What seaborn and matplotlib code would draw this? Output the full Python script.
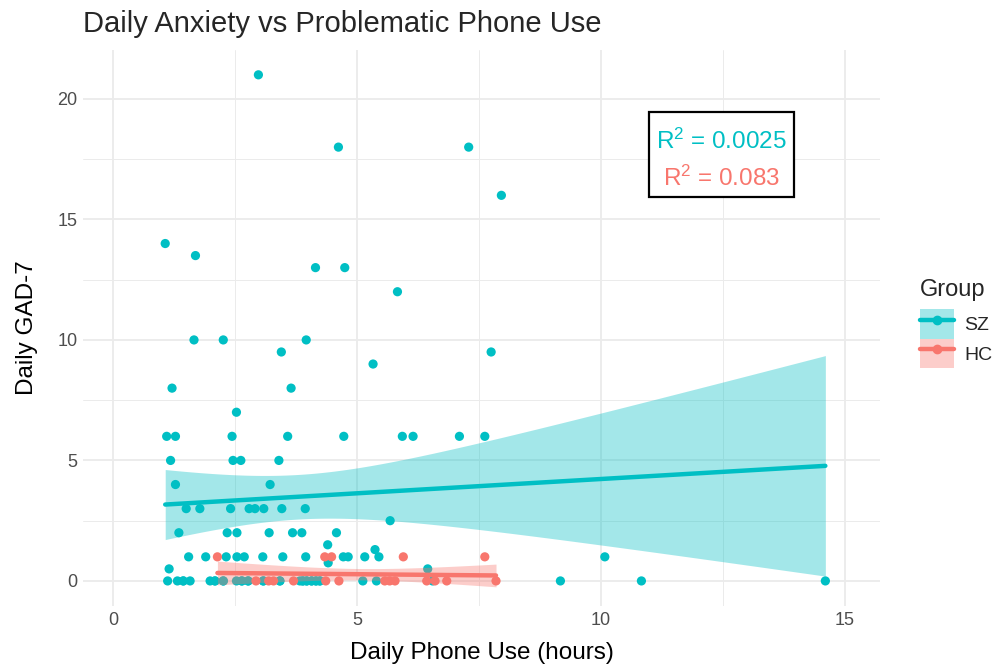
import numpy as np
import pandas as pd
import matplotlib
matplotlib.use("Agg")
import matplotlib.pyplot as plt
import seaborn as sns
from matplotlib.patches import Patch
from matplotlib.lines import Line2D
from matplotlib.legend_handler import HandlerTuple
from matplotlib.offsetbox import TextArea, VPacker, AnnotationBbox, DrawingArea
from matplotlib.ticker import MultipleLocator

# Daily phone use (hours) and daily GAD-7 score, schizophrenia group
# (the zero row is dense; several zero-score days sit on top of each other)
sz_phone = [
    2.98, 4.62, 7.29, 7.96, 1.07, 1.69, 4.15, 4.75, 5.83,
    1.66, 2.26, 3.96, 3.45, 7.75, 5.33, 1.21, 3.65, 2.53,
    1.10, 1.28, 2.44, 3.58, 4.73, 5.93, 6.15, 7.10, 7.62,
    1.18, 2.46, 2.62, 3.40, 1.28, 3.22,
    1.50, 1.78, 2.41, 2.79, 2.91, 3.09, 3.46, 3.94,
    5.68, 1.35, 2.34, 2.54, 3.20, 3.68, 3.87, 4.58, 4.40, 5.37,
    1.55, 1.90, 2.32, 2.54, 2.69, 3.07, 3.48, 3.95, 4.72, 4.82, 5.16, 5.45, 10.08,
    4.41, 1.15, 6.45,
    1.12, 1.32, 1.44, 1.58, 1.99, 2.09, 2.26, 2.53, 2.64, 2.77, 3.08, 3.42,
    3.83, 3.89, 3.97, 4.07, 4.16, 4.24, 5.12, 5.40, 6.55, 9.17, 10.83, 14.60,
    1.44, 2.09, 2.26, 2.64, 2.77, 3.08, 3.42, 3.89, 3.97, 4.07, 4.16, 4.24,
]
sz_gad = [
    21, 18, 18, 16, 14, 13.5, 13, 13, 12,
    10, 10, 10, 9.5, 9.5, 9, 8, 8, 7,
    6, 6, 6, 6, 6, 6, 6, 6, 6,
    5, 5, 5, 5, 4, 4,
    3, 3, 3, 3, 3, 3, 3, 3,
    2.5, 2, 2, 2, 2, 2, 2, 2, 1.5, 1.3,
    1, 1, 1, 1, 1, 1, 1, 1, 1, 1, 1, 1, 1,
    0.75, 0.5, 0.5,
    0, 0, 0, 0, 0, 0, 0, 0, 0, 0, 0, 0,
    0, 0, 0, 0, 0, 0, 0, 0, 0, 0, 0, 0,
    0, 0, 0, 0, 0, 0, 0, 0, 0, 0, 0, 0,
]

# Same measures, healthy control group
hc_phone = [2.14, 4.34, 4.48, 5.95, 7.62,
            2.93, 3.19, 3.29, 3.70, 4.36, 4.63, 5.57, 5.67, 5.78,
            6.43, 6.60, 6.84, 7.85]
hc_gad = [1, 1, 1, 1, 1,
          0, 0, 0, 0, 0, 0, 0, 0, 0,
          0, 0, 0, 0]

groups = ["SZ", "HC"]
palette = {"SZ": "#00BFC4", "HC": "#F8766D"}
r2_text = {"SZ": "0.0025", "HC": "0.083"}

df = pd.concat([
    pd.DataFrame({"phone": sz_phone, "gad": sz_gad, "Group": "SZ"}),
    pd.DataFrame({"phone": hc_phone, "gad": hc_gad, "Group": "HC"}),
], ignore_index=True)


def t975(dof):
    """Two-sided 95% Student-t quantile (Cornish-Fisher expansion)."""
    z = 1.959963985
    return (z + (z**3 + z) / (4 * dof)
            + (5 * z**5 + 16 * z**3 + 3 * z) / (96 * dof**2)
            + (3 * z**7 + 19 * z**5 + 17 * z**3 - 15 * z) / (384 * dof**3))


def lm_band(x, y, grid):
    """OLS fit with 95% confidence band of the mean on a grid."""
    x = np.asarray(x, float)
    y = np.asarray(y, float)
    n = len(x)
    slope, intercept = np.polyfit(x, y, 1)
    resid = y - (intercept + slope * x)
    s = np.sqrt(np.sum(resid**2) / (n - 2))
    sxx = np.sum((x - x.mean())**2)
    se = s * np.sqrt(1 / n + (grid - x.mean())**2 / sxx)
    fit = intercept + slope * grid
    half = t975(n - 2) * se
    return fit - half, fit + half


sns.set_theme(style="white")
plt.rcParams["font.family"] = ["Liberation Sans", "DejaVu Sans"]
plt.rcParams["mathtext.default"] = "regular"

fig = plt.figure(figsize=(9.99, 6.71), dpi=100)
ax = fig.add_axes([83 / 999, 65 / 671, 797 / 999, 556 / 671])

sns.scatterplot(data=df, x="phone", y="gad", hue="Group", hue_order=groups,
                palette=palette, s=44, linewidth=0, alpha=1, legend=False,
                ax=ax, zorder=3)

for g in groups:
    sub = df[df["Group"] == g]
    grid = np.linspace(sub["phone"].min(), sub["phone"].max(), 200)
    lo, hi = lm_band(sub["phone"], sub["gad"], grid)
    ax.fill_between(grid, lo, hi, color=palette[g], alpha=0.36, lw=0, zorder=4)
    sns.regplot(data=sub, x="phone", y="gad", scatter=False, ci=None,
                color=palette[g], ax=ax, line_kws={"lw": 3.2, "zorder": 5})

ax.set_xlim(-0.615, 15.72)
ax.set_ylim(-1.04, 22.03)
ax.xaxis.set_major_locator(MultipleLocator(5))
ax.xaxis.set_minor_locator(MultipleLocator(2.5))
ax.yaxis.set_major_locator(MultipleLocator(5))
ax.yaxis.set_minor_locator(MultipleLocator(2.5))
ax.grid(which="major", color="#EBEBEB", lw=1.3)
ax.grid(which="minor", color="#EBEBEB", lw=0.7)
ax.set_axisbelow(True)
for s in ax.spines.values():
    s.set_visible(False)
ax.tick_params(which="both", length=0, labelsize=13, labelcolor="#4D4D4D", pad=4)

ax.set_xlabel("Daily Phone Use (hours)", fontsize=17.5, color="black", labelpad=10)
ax.set_ylabel("Daily GAD-7", fontsize=17.5, color="black", labelpad=14)
ax.set_title("Daily Anxiety vs Problematic Phone Use", fontsize=21,
             loc="left", x=0.0, pad=13)

# R-squared annotation box
lines = [TextArea(f"R$^2$ = {r2_text[g]}",
                  textprops=dict(color=palette[g], fontsize=17.5)) for g in groups]
inner = VPacker(children=lines, align="center", pad=0, sep=8)
pack = VPacker(children=[DrawingArea(1, 7), inner], align="center", pad=0, sep=0)
ab = AnnotationBbox(pack, (12.47, 17.68), xycoords="data", frameon=True,
                    box_alignment=(0.5, 0.5), pad=0.45,
                    bboxprops=dict(edgecolor="black", facecolor="white", lw=1.6))
ab.set_zorder(6)
ax.add_artist(ab)

# Legend with band + line keys
handles = [(Patch(facecolor=palette[g], alpha=0.36, edgecolor="none"),
            Line2D([], [], color=palette[g], lw=3.2, marker="o", markersize=6))
           for g in groups]
leg = ax.legend(handles, groups, title="Group", loc="center left",
                bbox_to_anchor=(1.035, 0.508), frameon=False,
                handler_map={tuple: HandlerTuple(ndivide=1, pad=0)},
                handlelength=1.75, handleheight=1.95, labelspacing=0.0,
                handletextpad=0.55, fontsize=14, title_fontsize=17,
                alignment="left", borderaxespad=0.2)
leg._legend_box.sep = 6

fig.savefig("out.png", dpi=100)
